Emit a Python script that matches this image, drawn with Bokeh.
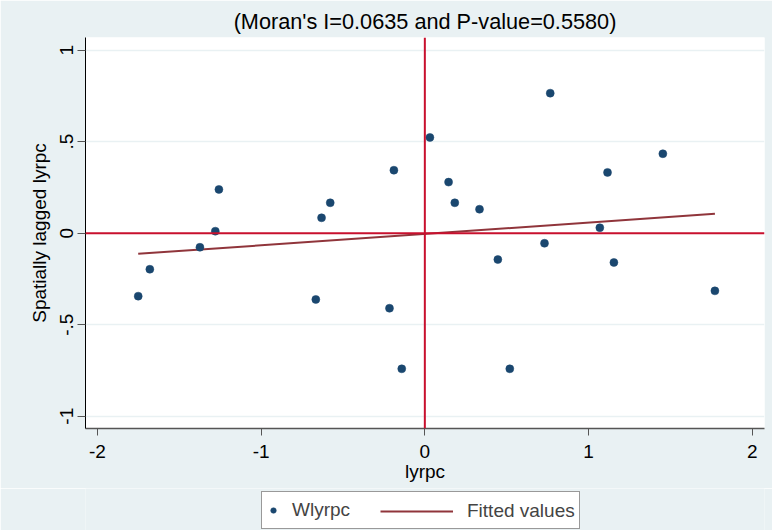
from bokeh.plotting import figure
from bokeh.layouts import column
from bokeh.models import Span, Legend, LegendItem, FixedTicker, Range1d
from bokeh.embed import file_html
from bokeh.resources import INLINE

# ---- data ----
lyrpc = [-1.751, -1.680, -1.374, -1.280, -1.258, -0.666, -0.631, -0.578,
         -0.216, -0.189, -0.141, 0.031, 0.145, 0.183, 0.334, 0.446,
         0.519, 0.731, 0.766, 1.069, 1.116, 1.155, 1.454, 1.772]
wlyrpc = [-0.344, -0.197, -0.077, 0.011, 0.239, -0.362, 0.084, 0.166,
          -0.410, 0.344, -0.741, 0.523, 0.279, 0.166, 0.131, -0.144,
          -0.741, -0.055, 0.765, 0.030, 0.332, -0.160, 0.434, -0.315]
fit_x = [-1.751, 1.772]
fit_y = [-0.113, 0.106]

x_ticks = [-2, -1, 0, 1, 2]
x_tick_labels = ["-2", "-1", "0", "1", "2"]
y_ticks = [-1, -0.5, 0, 0.5, 1]
y_tick_labels = ["-1", "-.5", "0", ".5", "1"]
title_text = "(Moran's I=0.0635 and P-value=0.5580)"
x_label = "lyrpc"
y_label = "Spatially lagged lyrpc"
series_names = ["Wlyrpc", "Fitted values"]

# ---- styles ----
FONT = "Liberation Sans"
BG = "#E9F1F3"
NAVY = "#1A476F"
MAROON = "#90353B"
RED = "#C8102E"
W = 772
MAIN_H = 488
LEG_H = 42

p = figure(width=W, height=MAIN_H, output_backend="svg", toolbar_location=None,
           x_range=Range1d(-2.073, 2.075), y_range=Range1d(-1.067, 1.069),
           min_border_left=85, min_border_right=8, min_border_top=37,
           min_border_bottom=60)
p.background_fill_color = "white"
p.border_fill_color = BG
p.outline_line_color = None

p.title.text = title_text
p.title.align = "center"
p.title.text_font = FONT
p.title.text_font_size = "21.7px"
p.title.text_font_style = "normal"
p.title.text_color = "black"
p.title.standoff = 8

# grids
p.xgrid.grid_line_color = None
p.ygrid.ticker = FixedTicker(ticks=[-1, -0.5, 0.5, 1])
p.ygrid.grid_line_color = BG
p.ygrid.grid_line_width = 1.5

# axes
for ax in (p.xaxis[0], p.yaxis[0]):
    ax.major_label_text_font = FONT
    ax.major_label_text_font_size = "19px"
    ax.major_label_text_color = "black"
    ax.axis_label_text_font = FONT
    ax.axis_label_text_font_size = "19px"
    ax.axis_label_text_font_style = "normal"
    ax.axis_label_text_color = "black"
    ax.minor_tick_line_color = None
    ax.major_tick_in = 0

p.xaxis.ticker = FixedTicker(ticks=x_ticks)
p.xaxis.major_label_overrides = {t: l for t, l in zip(x_ticks, x_tick_labels)}
p.xaxis.axis_label = x_label
p.xaxis.axis_line_color = "#555555"
p.xaxis.axis_line_width = 1.5
p.xaxis.major_tick_line_color = "#555555"
p.xaxis.major_tick_out = 7
p.xaxis.major_label_standoff = 9
p.xaxis.axis_label_standoff = 0

p.yaxis.ticker = FixedTicker(ticks=y_ticks)
p.yaxis.major_label_overrides = {t: l for t, l in zip(y_ticks, y_tick_labels)}
p.yaxis.major_label_orientation = "vertical"
p.yaxis.axis_label = y_label
p.yaxis.axis_line_color = "black"
p.yaxis.axis_line_width = 1
p.yaxis.major_tick_line_color = "#555555"
p.yaxis.major_tick_out = 8
p.yaxis.major_label_standoff = 4
p.yaxis.axis_label_standoff = 8

# reference lines
p.add_layout(Span(location=0, dimension="height", line_color=RED, line_width=2))
p.add_layout(Span(location=0, dimension="width", line_color=RED, line_width=2))

p.line(fit_x, fit_y, line_color=MAROON, line_width=2)
p.scatter(lyrpc, wlyrpc, size=8, fill_color=NAVY, line_color=NAVY,
          line_width=0.5)

# ---- legend strip below the chart (its frame is aligned with the chart's) ----
q = figure(width=W, height=LEG_H, output_backend="svg", toolbar_location=None,
           x_range=Range1d(100, 101), y_range=Range1d(100, 101),
           x_axis_location=None, y_axis_location=None,
           min_border_left=0, min_border_right=0, min_border_top=0,
           min_border_bottom=0)
q.background_fill_color = BG
q.border_fill_color = BG
q.outline_line_color = None
q.grid.grid_line_color = None

# legend proxies: same series and styles, kept outside this strip's ranges
k_pts = q.scatter(lyrpc, wlyrpc, size=8, fill_color=NAVY, line_color=NAVY,
                  line_width=0.5)
k_fit = q.line(fit_x, fit_y, line_color=MAROON, line_width=2)

leg_a = Legend(items=[LegendItem(label=series_names[0], renderers=[k_pts])],
               orientation="horizontal", location=(176, 1),
               border_line_color="#333333", border_line_width=1,
               background_fill_color="white", background_fill_alpha=1,
               label_text_font=FONT, label_text_font_size="19px",
               glyph_width=14, glyph_height=28, label_height=28,
               label_width=283, label_standoff=12, padding=4, margin=0)
leg_b = Legend(items=[LegendItem(label=series_names[1], renderers=[k_fit])],
               orientation="horizontal", location=(295, 5),
               border_line_color=None, background_fill_alpha=0,
               label_text_font=FONT, label_text_font_size="19px",
               glyph_width=73, glyph_height=28, label_height=28,
               label_standoff=14, padding=0, margin=0)
q.add_layout(leg_a, "center")
q.add_layout(leg_b, "center")

page = column(p, q, spacing=0)
open("out.html", "w").write(file_html(page, INLINE))
